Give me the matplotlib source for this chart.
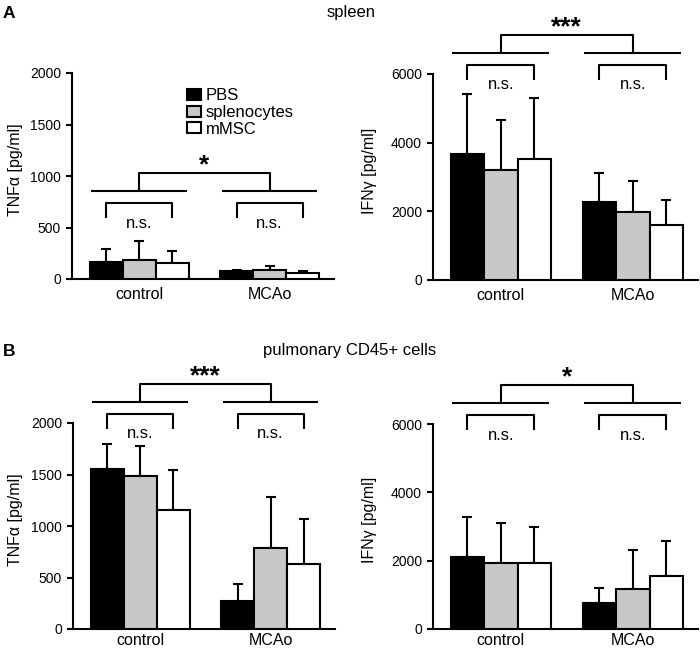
import matplotlib
matplotlib.use("Agg")
import matplotlib.pyplot as plt
import numpy as np

plt.rcParams['font.family'] = ['Liberation Sans', 'DejaVu Sans']

# data: rows = control, MCAo; cols = PBS, splenocytes, mMSC
groups = ['control', 'MCAo']
treatments = ['PBS', 'splenocytes', 'mMSC']

spleen_tnf = [[166, 185, 156], [75, 84, 57]]
spleen_tnf_sd = [[126, 185, 113], [15, 46, 18]]

spleen_ifn = [[3677, 3210, 3527], [2280, 1970, 1605]]
spleen_ifn_sd = [[1733, 1445, 1763], [840, 923, 727]]

lung_tnf = [[1549, 1481, 1153], [270, 782, 633]]
lung_tnf_sd = [[243, 292, 392], [168, 504, 437]]

lung_ifn = [[2098, 1922, 1941], [751, 1171, 1551]]
lung_ifn_sd = [[1170, 1190, 1054], [439, 1141, 1034]]

colores = ['black', '#c8c8c8', 'white']
W, H = 700, 653
LW = 1.5

fig = plt.figure(figsize=(W / 100, H / 100), dpi=100)


def nuevo_ax(left, top, w, h):
    return fig.add_axes([left / W, 1 - (top + h) / H, w / W, h / H])


def panel(ax, medias, sds, ymax, yticks, ylabel, labx, xpad):
    centros = [0, 3.95]
    for g, c in enumerate(centros):
        for i in range(3):
            x = c + i - 1
            ax.bar(x, medias[g][i], width=1, color=colores[i], edgecolor='black',
                   linewidth=LW, zorder=3, label=treatments[i] if g == 0 else None)
            ax.errorbar(x, medias[g][i], yerr=[[0], [sds[g][i]]], fmt='none',
                        ecolor='black', elinewidth=LW, capsize=3.5, capthick=LW, zorder=2)
    ax.set_xlim(-2.03, 5.9)
    ax.set_ylim(0, ymax)
    ax.set_yticks(yticks)
    ax.set_xticks(centros)
    ax.set_xticklabels(groups, fontsize=11.5)
    ax.tick_params(axis='x', length=0, pad=xpad)
    ax.tick_params(axis='y', length=4, width=LW, labelsize=10, pad=4)
    for s in ['top', 'right']:
        ax.spines[s].set_visible(False)
    for s in ['left', 'bottom']:
        ax.spines[s].set_linewidth(LW)
    ax.set_ylabel(ylabel, fontsize=11.5)
    ax.yaxis.set_label_coords(labx, 0.53)
    return centros


def llaves(ax, centros, base, estrellas):
    # unidades de datos por pixel
    u = ax.get_ylim()[1] / (ax.get_position().height * H)
    L0, L1, L2, L3 = base, base + 15 * u, base + 27 * u, base + 45 * u
    kw = dict(color='black', lw=LW, clip_on=False, solid_capstyle='butt')
    for c in centros:
        ax.plot([c - 1, c - 1, c + 1, c + 1], [L0, L1, L1, L0], **kw)
        ax.text(c, L0 - 5 * u, 'n.s.', ha='center', va='center', fontsize=12, clip_on=False)
        ax.plot([c - 1.45, c + 1.45], [L2, L2], **kw)
    ax.plot([centros[0], centros[0], centros[1], centros[1]], [L2, L3, L3, L2], **kw)
    ax.text(np.mean(centros), L3 + 1 * u, estrellas, ha='center', va='baseline',
            fontsize=19, fontweight='bold', clip_on=False)


ax1 = nuevo_ax(72, 73, 262, 206)
c = panel(ax1, spleen_tnf, spleen_tnf_sd, 2000, [0, 500, 1000, 1500, 2000],
          'TNFα [pg/ml]', -0.187, 5.5)
llaves(ax1, c, 592, '*')
ax1.legend(loc='upper left', bbox_to_anchor=(0.44, 0.925), frameon=False, fontsize=12,
           handlelength=0.8, handleheight=0.65, handletextpad=0.3, labelspacing=0.1,
           borderpad=0, borderaxespad=0)

ax2 = nuevo_ax(433, 74, 265, 206)
c = panel(ax2, spleen_ifn, spleen_ifn_sd, 6000, [0, 2000, 4000, 6000],
          'IFNγ [pg/ml]', -0.211, 5.5)
llaves(ax2, c, 6000 - 6 * 6000 / 206, '***')

ax3 = nuevo_ax(73, 423, 262, 206)
c = panel(ax3, lung_tnf, lung_tnf_sd, 2000, [0, 500, 1000, 1500, 2000],
          'TNFα [pg/ml]', -0.19, 3)
llaves(ax3, c, 2000 - 6 * 2000 / 206, '***')

ax4 = nuevo_ax(433, 424, 265, 205)
c = panel(ax4, lung_ifn, lung_ifn_sd, 6000, [0, 2000, 4000, 6000],
          'IFNγ [pg/ml]', -0.211, 3)
llaves(ax4, c, 6000 - 6 * 6000 / 205, '*')

fig.text(3 / W, 1 - 13 / H, 'A', fontsize=12.5, fontweight='bold', va='center')
fig.text(351 / W, 1 - 13 / H, 'spleen', fontsize=12, ha='center', va='center')
fig.text(3 / W, 1 - 352 / H, 'B', fontsize=12.5, fontweight='bold', va='center')
fig.text(350 / W, 1 - 351 / H, 'pulmonary CD45+ cells', fontsize=12, ha='center', va='center')

fig.savefig('out.png', dpi=100)
